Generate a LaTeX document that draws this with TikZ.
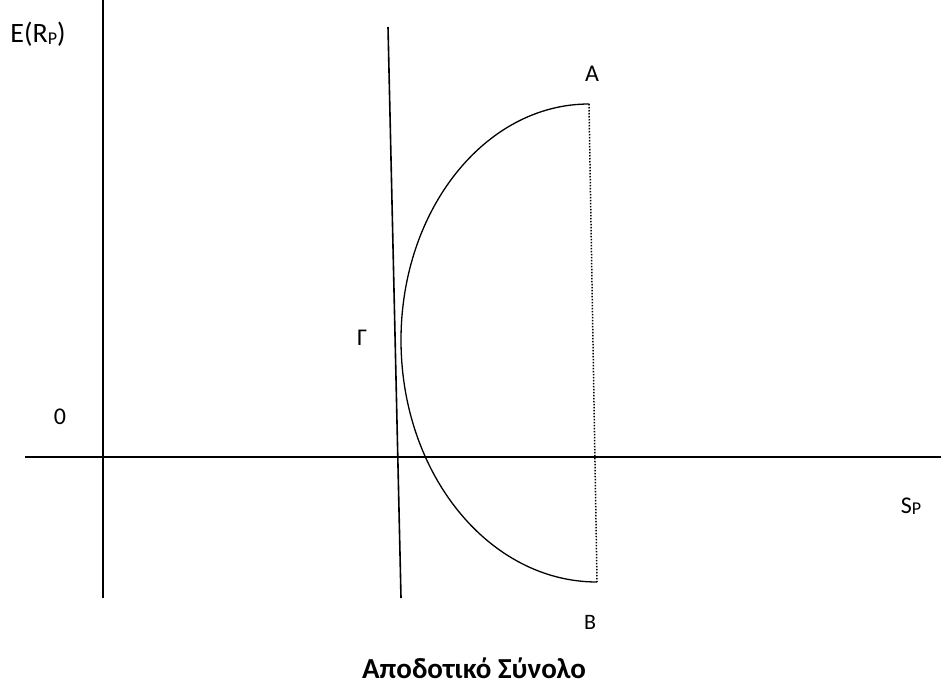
\documentclass[tikz,border=0pt]{standalone}
\usepackage{fontspec}
\setmainfont{Carlito}
\begin{document}
\begin{tikzpicture}[x=1pt,y=-1pt,
  axis/.style={line width=1.6pt},
  curvestyle/.style={line width=1.3pt},
  dotline/.style={line width=1.5pt, dash pattern=on 1.5pt off 1.5pt},
  lbl/.style={inner sep=0pt,font=\fontsize{24}{28}\selectfont},
  ttl/.style={inner sep=0pt,font=\fontsize{29}{34}\selectfont\bfseries}]
\useasboundingbox (0,0) rectangle (941,687);
% axes
\coordinate (ytop) at (103,0);
\coordinate (ybot) at (103,598);
\coordinate (xl) at (25,457);
\coordinate (xr) at (941,457);
\draw[axis] (ytop) -- (ybot);
\draw[axis] (xl) -- (xr);
% Gamma line
\coordinate (gtop) at (388,27);
\coordinate (gbot) at (401,598);
\draw[axis] (gtop) -- (gbot);
% efficient curve
\coordinate (pa) at (589,104);
\coordinate (pg) at (401,340);
\coordinate (pb) at (597,582);
\draw[curvestyle] (pa) .. controls (485,104) and (401,210) .. (pg)
  .. controls (401,474) and (489,582) .. (pb);
\draw[dotline] (pa) -- (pb);
% labels
\node[lbl,font=\fontsize{28}{32}\selectfont] (erp) at (38,34) {E(R\raisebox{-0.15ex}{\fontsize{18}{20}\selectfont P})};
\node[lbl] (zero) at (60,417) {0};
\node[lbl] (gam) at (362,338) {Γ};
\node[lbl] (la) at (592,74) {A};
\node[lbl,font=\fontsize{22}{26}\selectfont] (lb) at (590,622) {B};
\node[lbl] (sp) at (911,506) {S\raisebox{-0.1ex}{\fontsize{18}{20}\selectfont P}};
\node[ttl] (title) at (474,668) {Αποδοτικό Σύνολο};
\end{tikzpicture}
\end{document}
